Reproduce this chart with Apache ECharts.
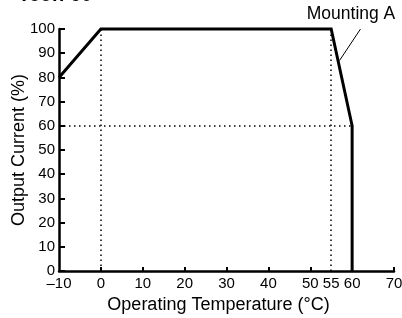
<!DOCTYPE html>
<html lang="en">
<head>
  <meta charset="UTF-8">
  <title>Output Current vs Operating Temperature</title>
  <script src="https://cdn.jsdelivr.net/npm/echarts@6.0.0/dist/echarts.min.js"></script>
  <style>
    html, body { margin: 0; padding: 0; background: #fff; }
    #main { width: 402px; height: 318px; }
  </style>
</head>
<body>
  <div id="main"></div>
  <script>
    // derating curve (temperature, output current %)
    const tempPts = [-10, 0, 55, 60, 60];
    const currentPts = [80, 100, 100, 60, 0];
    // x tick labels shown under the axis
    const xLabelValues = [-10, 0, 10, 20, 30, 40, 50, 55, 60, 70];
    const xTickValues = [0, 10, 20, 30, 40, 50, 60, 70];
    // dotted guide lines [x1, y1, x2, y2]
    const guides = [[0, 0, 0, 100], [55, 0, 55, 100], [-10, 60, 60, 60]];
    // leader line for the annotation
    const leader = [[57, 87], [62, 100]];

    const font = 'Liberation Sans, Arial, Helvetica, sans-serif';
    const chart = echarts.init(document.getElementById('main'));

    const markData = guides.map(g => [
      { coord: [g[0], g[1]] },
      { coord: [g[2], g[3]] }
    ]);
    markData.push([
      { coord: leader[0], lineStyle: { type: 'solid', width: 1 } },
      { coord: leader[1], lineStyle: { type: 'solid', width: 1 } }
    ]);

    chart.setOption({
      animation: false,
      grid: { left: 59, right: 8, top: 29, bottom: 47, outerBoundsMode: 'none', containLabel: false },
      graphic: [
        {
          type: 'text', x: 18, y: 5.5,
          style: { text: 'Teon 60', font: 'bold 20px ' + font, fill: '#000', verticalAlign: 'bottom' }
        },
        {
          type: 'text', x: 351, y: 14,
          style: {
            text: 'Mounting A', font: '17.5px ' + font, fill: '#000',
            align: 'center', verticalAlign: 'middle'
          }
        }
      ],
      xAxis: {
        type: 'value', min: -10, max: 70, interval: 10,
        name: 'Operating Temperature (°C)',
        nameLocation: 'middle', nameGap: 22,
        nameTextStyle: { fontSize: 18, fontFamily: font, color: '#000', padding: [0, 16, 0, 0] },
        axisLine: { show: true, onZero: false, lineStyle: { color: '#000', width: 2.5 } },
        axisTick: { show: true, inside: true, length: 4, customValues: xTickValues,
          lineStyle: { color: '#000', width: 2 } },
        axisLabel: {
          customValues: xLabelValues, margin: 5,
          fontSize: 15, fontFamily: font, color: '#000',
          formatter: v => v < 0 ? '\u2013' + Math.abs(v) : String(v)
        },
        splitLine: { show: false }
      },
      yAxis: {
        type: 'value', min: 0, max: 100, interval: 10,
        name: 'Output Current (%)',
        nameLocation: 'middle', nameGap: 31, nameRotate: 90, nameMoveOverlap: false,
        nameTextStyle: { fontSize: 18, fontFamily: font, color: '#000' },
        axisLine: { show: true, onZero: false, lineStyle: { color: '#000', width: 2.5 } },
        axisTick: { show: true, inside: true, length: 6,
          lineStyle: { color: '#000', width: 2 } },
        axisLabel: { margin: 4, fontSize: 15, fontFamily: font, color: '#000' },
        splitLine: { show: false }
      },
      series: [{
        type: 'line',
        data: tempPts.map((t, i) => [t, currentPts[i]]),
        symbol: 'none',
        clip: false,
        lineStyle: { color: '#000', width: 3, join: 'miter' },
        markLine: {
          silent: true,
          symbol: 'none',
          animation: false,
          label: { show: false },
          lineStyle: { color: '#000', type: [1.5, 3.5], width: 1.5 },
          data: markData
        }
      }]
    });
  </script>
</body>
</html>
